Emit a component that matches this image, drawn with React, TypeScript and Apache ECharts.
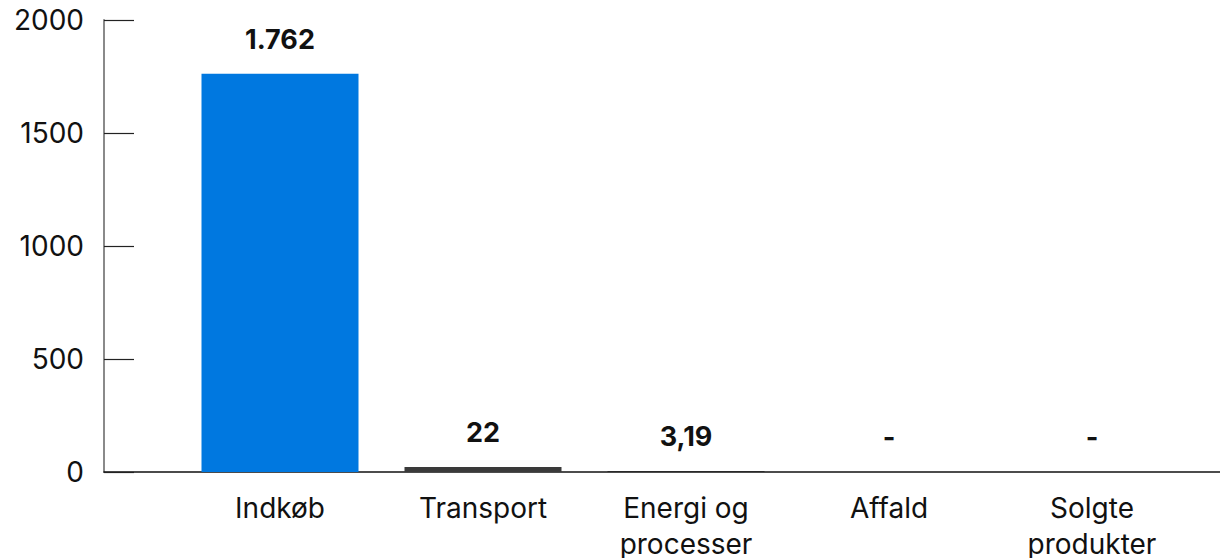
import React, { useEffect, useRef } from "react";
import * as echarts from "echarts";

// Emission categories and their values (tonnes CO2e)
const categories = ["Indkøb", "Transport", "Energi og\nprocesser", "Affald", "Solgte\nprodukter"];
const values = [1762, 22, 3.19, 0, 0];
const barColors = ["#0078E0", "#3A3A3A", "#1E1E1E", "#1E1E1E", "#1E1E1E"];
const yTicks = { min: 0, max: 2000, interval: 500 };

const FONT = "Inter, 'Noto Sans', sans-serif";

// Danish number style: "." for thousands, "," for decimals, "-" for none
function formatDa(v: number): string {
  if (!v) return "-";
  const [intPart, dec] = String(v).split(".");
  const grouped = intPart.replace(/\B(?=(\d{3})+(?!\d))/g, ".");
  return dec ? `${grouped},${dec}` : grouped;
}

export default function App() {
  const ref = useRef<HTMLDivElement>(null);

  useEffect(() => {
    if (!ref.current) return;
    const chart = echarts.init(ref.current, null, { renderer: "svg" });
    chart.setOption({
      animation: false,
      backgroundColor: "#ffffff",
      grid: [
        // bars and category labels
        { left: 178.5, width: 1015, top: 20, bottom: 86, containLabel: false, outerBoundsMode: "none" },
        // frame: y axis with ticks and the baseline
        { left: 104, right: 0, top: 20, bottom: 86, containLabel: false, outerBoundsMode: "none" },
      ],
      xAxis: [
        {
          type: "category",
          gridIndex: 0,
          data: categories,
          axisLine: { show: false },
          axisTick: { show: false },
          axisLabel: {
            interval: 0,
            fontFamily: FONT,
            fontSize: 28,
            color: "#111111",
            margin: 18,
            lineHeight: 36,
          },
        },
        {
          type: "value",
          gridIndex: 1,
          min: 0,
          max: 1,
          axisLine: { show: true, lineStyle: { color: "#111111", width: 1.5 } },
          axisTick: { show: false },
          axisLabel: { show: false },
          splitLine: { show: false },
        },
      ],
      yAxis: [
        {
          type: "value",
          gridIndex: 0,
          min: yTicks.min,
          max: yTicks.max,
          interval: yTicks.interval,
          show: false,
        },
        {
          type: "value",
          gridIndex: 1,
          min: yTicks.min,
          max: yTicks.max,
          interval: yTicks.interval,
          axisLine: { show: true, onZero: false, lineStyle: { color: "#8A8A8A", width: 2 } },
          axisTick: { show: true, inside: true, length: 30, lineStyle: { color: "#222222", width: 1.2 } },
          axisLabel: {
            fontFamily: FONT,
            fontSize: 28,
            color: "#111111",
            margin: 20,
            formatter: (v: number) => String(v),
          },
          splitLine: { show: false },
        },
      ],
      series: [
        {
          type: "bar",
          xAxisIndex: 0,
          yAxisIndex: 0,
          barWidth: 157,
          data: values.map((v, i) => ({ value: v, itemStyle: { color: barColors[i] } })),
          label: {
            show: true,
            position: "top",
            distance: 21,
            fontFamily: FONT,
            fontSize: 27,
            fontWeight: "bold",
            color: "#111111",
            formatter: (p: any) => formatDa(p.value),
          },
        },
      ],
    });
    return () => chart.dispose();
  }, []);

  return (
    <div
      ref={ref}
      style={{ position: "fixed", left: 0, top: 0, width: 1220, height: 558 }}
    />
  );
}
